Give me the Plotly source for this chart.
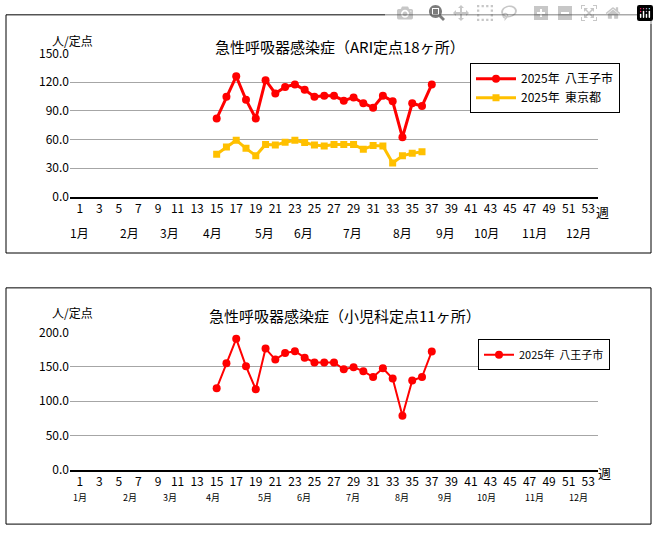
import plotly.graph_objects as go

weeks_all = list(range(1, 54))
weeks_h = list(range(15, 38))
weeks_t = list(range(15, 37))
ari_hachioji = [82, 104.8, 126.2, 101.7, 82, 122.1, 108.2, 115, 117.7, 112, 104.8, 105.8, 105.8,
                100.7, 104.1, 98, 93.3, 105.8, 100, 62.3, 98, 95, 117.7]
ari_tokyo = [44.7, 52.1, 59.3, 50.8, 43, 54.9, 54.2, 57.2, 59.3, 56.9, 54.2, 53.2, 54.9, 54.9,
             54.9, 49.8, 53.8, 53.2, 35.5, 43, 45.7, 47.1]
ped_hachioji = [118.7, 155.3, 190.6, 150.6, 117.3, 176.5, 160.5, 169.9, 172.7, 163.3, 156.3, 156.3,
                156.3, 146.4, 149.2, 143.6, 135.1, 147.8, 132.8, 78.7, 130, 135.1, 172.3]
months = ["1月", "2月", "3月", "4月", "5月", "6月", "7月", "8月", "9月", "10月", "11月", "12月"]
month_pos = [1, 6.1, 10.2, 14.6, 19.9, 23.9, 28.9, 34, 38.4, 42.6, 47.5, 52]
odd_weeks = list(range(1, 54, 2))

W, H = 659, 534
def px(x): return x / W
def py(y): return 1 - y / H

font = dict(family="Noto Sans CJK JP, sans-serif", color="black")
fig = go.Figure()
fig.add_trace(go.Scatter(x=weeks_h, y=ari_hachioji, mode="lines+markers", name="2025年  八王子市",
                         line=dict(color="#FF0000", width=3), marker=dict(size=8, color="#FF0000"),
                         xaxis="x", yaxis="y", legend="legend"))
fig.add_trace(go.Scatter(x=weeks_t, y=ari_tokyo, mode="lines+markers", name="2025年  東京都",
                         line=dict(color="#FFC000", width=3), marker=dict(size=7, symbol="square", color="#FFC000"),
                         xaxis="x", yaxis="y", legend="legend"))
fig.add_trace(go.Scatter(x=weeks_h, y=ped_hachioji, mode="lines+markers", name="2025年  八王子市",
                         line=dict(color="#FF0000", width=2), marker=dict(size=8, color="#FF0000"),
                         xaxis="x2", yaxis="y2", legend="legend2"))

xcommon = dict(range=[0, 54], tickvals=odd_weeks, ticktext=[str(w) for w in odd_weeks],
               showgrid=False, showline=True, linecolor="black", linewidth=1.5, ticks="",
               tickfont=dict(size=12), zeroline=False)
fig.update_layout(
    width=W, height=H, margin=dict(l=0, r=0, t=0, b=0), paper_bgcolor="white", plot_bgcolor="white",
    font=font, showlegend=True,
    xaxis=dict(domain=[px(70), px(598)], anchor="y", **xcommon),
    yaxis=dict(domain=[py(193), py(45)], range=[0, 150], tickvals=[0, 30, 60, 90, 120, 150],
               tickformat=".1f", gridcolor="#A6A6A6", zeroline=False, tickfont=dict(size=12)),
    xaxis2=dict(domain=[px(70), px(598)], anchor="y2", **xcommon),
    yaxis2=dict(domain=[py(475), py(333)], range=[0, 200], tickvals=[0, 50, 100, 150, 200],
                tickformat=".1f", gridcolor="#A6A6A6", zeroline=False, tickfont=dict(size=12)),
    legend=dict(x=px(470), y=py(55), xanchor="left", yanchor="top", bordercolor="black", borderwidth=1,
                font=dict(size=12), tracegroupgap=12, itemwidth=40),
    legend2=dict(x=px(478), y=py(340), xanchor="left", yanchor="top", bordercolor="black", borderwidth=1,
                 font=dict(size=11)),
)
shapes = [dict(type="rect", xref="paper", yref="paper", x0=px(6), x1=px(651), y0=py(251), y1=py(5),
               line=dict(color="black", width=1)),
          dict(type="rect", xref="paper", yref="paper", x0=px(6), x1=px(651), y0=py(531), y1=py(287),
               line=dict(color="black", width=1))]
fig.update_layout(shapes=shapes)
ann = [dict(text="急性呼吸器感染症（ARI定点18ヶ所）", x=px(340), y=py(25), xref="paper", yref="paper", showarrow=False, font=dict(size=15)),
       dict(text="急性呼吸器感染症（小児科定点11ヶ所）", x=px(345), y=py(316), xref="paper", yref="paper", showarrow=False, font=dict(size=15)),
       dict(text="人/定点", x=px(50), y=py(21), xref="paper", yref="paper", showarrow=False, font=dict(size=12)),
       dict(text="人/定点", x=px(50), y=py(312), xref="paper", yref="paper", showarrow=False, font=dict(size=12)),
       dict(text="週", x=px(611), y=py(208), xref="paper", yref="paper", showarrow=False, font=dict(size=13)),
       dict(text="週", x=px(613), y=py(490), xref="paper", yref="paper", showarrow=False, font=dict(size=13))]
for m, p in zip(months, month_pos):
    ann.append(dict(text=m, x=p, y=py(230), xref="x", yref="paper", showarrow=False, font=dict(size=12)))
    ann.append(dict(text=m, x=p, y=py(512), xref="x2", yref="paper", showarrow=False, font=dict(size=9)))
fig.update_layout(annotations=ann)
fig.write_html("out.html", post_script="document.body.style.margin='0';document.body.style.overflow='hidden';")
